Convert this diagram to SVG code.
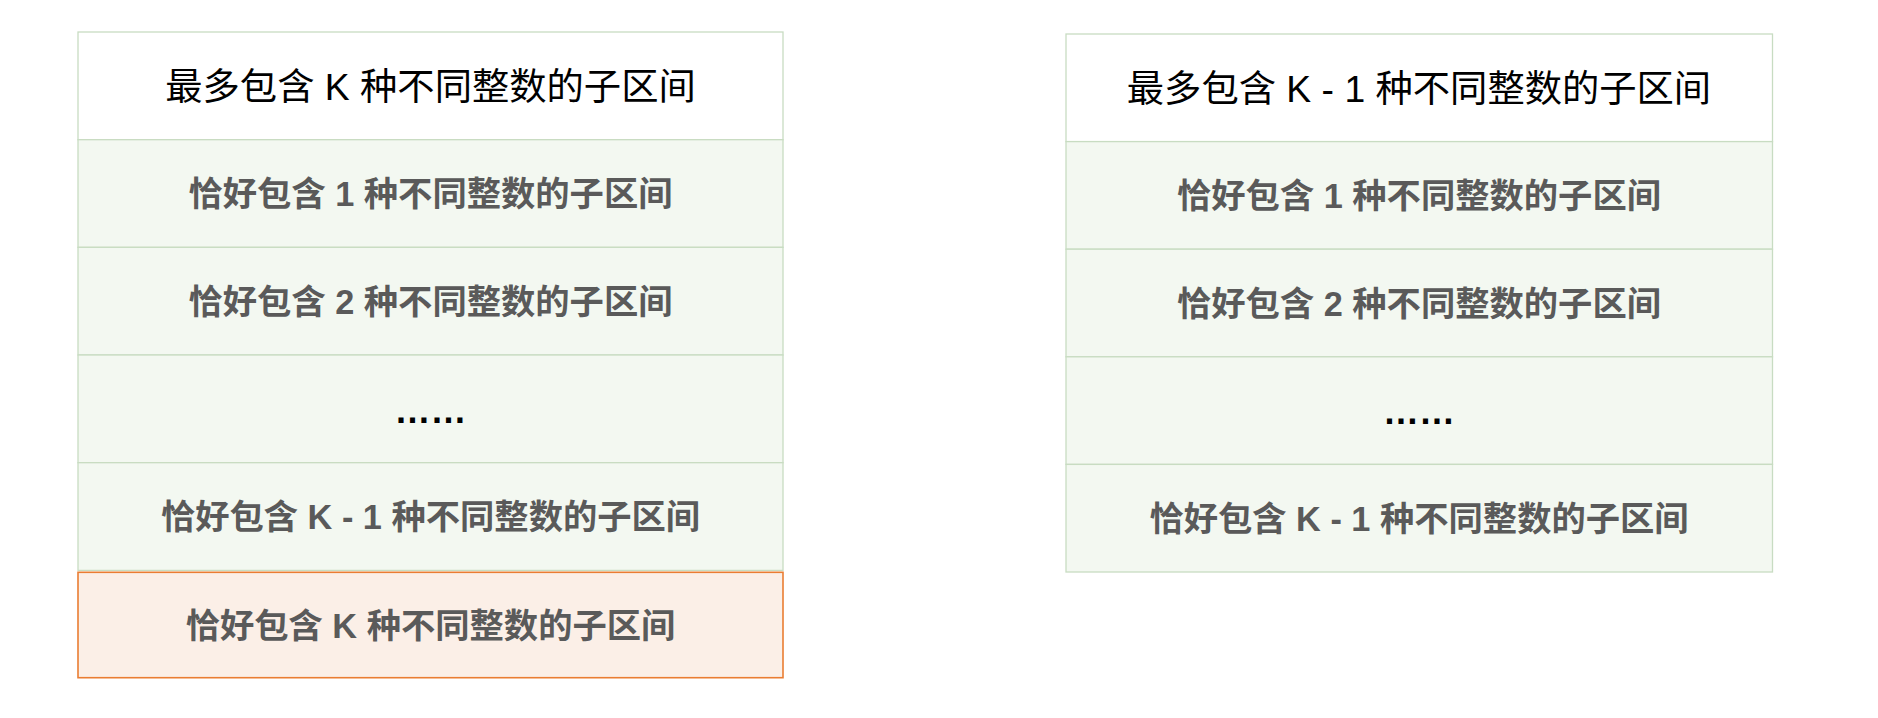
<svg xmlns="http://www.w3.org/2000/svg" width="1878" height="718" viewBox="0 0 1878 718">
<style>
.cell{fill:#f3f8f1;stroke:#c8dcc2;stroke-width:1.3}
.head{fill:#ffffff;stroke:#c8dcc2;stroke-width:1.3}
.hl{fill:#fbefe7;stroke:#ea7d32;stroke-width:1.6}
text{font-family:"Liberation Sans","Noto Sans CJK SC",sans-serif;text-anchor:middle;dominant-baseline:central}
.t{fill:#000000;font-size:37.3px}
.d{fill:#000000;font-size:36px;font-weight:bold}
.g{fill:#5a5a5a;font-size:34.3px;font-weight:bold}
</style>
<rect width="1878" height="718" fill="#ffffff"/>
<g id="left-table">
<g id="L0"><rect class="head" x="78" y="32" width="705" height="107.7"/><text class="t" x="430.5" y="87">最多包含 K 种不同整数的子区间</text></g>
<g id="L1"><rect class="cell" x="78" y="139.7" width="705" height="107.7"/><text class="g" x="430.5" y="194">恰好包含 1 种不同整数的子区间</text></g>
<g id="L2"><rect class="cell" x="78" y="247.3" width="705" height="107.7"/><text class="g" x="430.5" y="301.5">恰好包含 2 种不同整数的子区间</text></g>
<g id="L3"><rect class="cell" x="78" y="355" width="705" height="107.7"/><text class="d" x="430.5" y="410">……</text></g>
<g id="L4"><rect class="cell" x="78" y="462.7" width="705" height="107.7"/><text class="g" x="430.5" y="517">恰好包含 K - 1 种不同整数的子区间</text></g>
<g id="L5"><rect class="hl" x="78" y="572.3" width="705" height="105.4"/><text class="g" x="430.5" y="625.5">恰好包含 K 种不同整数的子区间</text></g>
</g>
<g id="right-table">
<g id="R0"><rect class="head" x="1066" y="34" width="706.5" height="107.6"/><text class="t" x="1419" y="89">最多包含 K - 1 种不同整数的子区间</text></g>
<g id="R1"><rect class="cell" x="1066" y="141.6" width="706.5" height="107.6"/><text class="g" x="1419" y="196">恰好包含 1 种不同整数的子区间</text></g>
<g id="R2"><rect class="cell" x="1066" y="249.2" width="706.5" height="107.6"/><text class="g" x="1419" y="303.5">恰好包含 2 种不同整数的子区间</text></g>
<g id="R3"><rect class="cell" x="1066" y="356.8" width="706.5" height="107.6"/><text class="d" x="1419" y="411.5">……</text></g>
<g id="R4"><rect class="cell" x="1066" y="464.4" width="706.5" height="107.6"/><text class="g" x="1419" y="518.7">恰好包含 K - 1 种不同整数的子区间</text></g>
</g>
<g id="connectors"/>
</svg>
